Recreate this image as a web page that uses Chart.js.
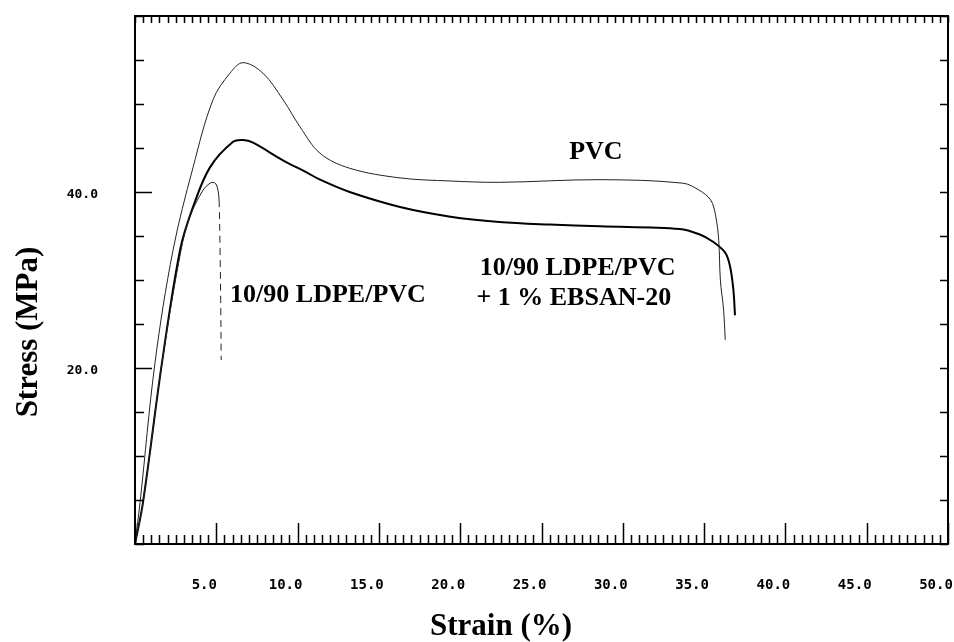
<!DOCTYPE html>
<html lang="en">
<head>
<meta charset="UTF-8">
<title>Stress - Strain</title>
<script src="https://cdn.jsdelivr.net/npm/chart.js"></script>
<style>
  html, body { margin: 0; padding: 0; background: #fff; }
</style>
</head>
<body>
<canvas id="grafico" width="954" height="642"></canvas>
<script>
// valores: deformação (%) e tensão (MPa)
const pvcStrain = [0, 0.31, 1.23, 2.34, 3.57, 4.80, 5.84, 6.64, 7.87, 9.10, 10.15, 11.38, 13.2, 16.3, 19.4, 22.4, 28.6, 33.7, 34.7, 35.4, 35.7, 35.9, 36.0, 36.2, 36.3];
const pvcStress = [0, 4.7, 20.6, 33.4, 42.8, 50.5, 53.5, 54.7, 53.5, 50.5, 47.4, 44.4, 42.7, 41.6, 41.25, 41.1, 41.4, 41.0, 40.2, 39.1, 37.4, 34.5, 30.0, 26.6, 23.2];

const ebsanStrain = [0, 0.49, 1.66, 2.77, 3.57, 4.61, 6.03, 6.65, 7.26, 9.10, 10.58, 11.38, 13.2, 16.3, 19.4, 22.4, 25.5, 28.6, 33.5, 34.7, 35.5, 36.3, 36.6, 36.8, 36.9];
const ebsanStress = [0, 4.7, 20.6, 33.4, 38.3, 42.8, 45.7, 45.9, 45.6, 43.6, 42.2, 41.4, 40.0, 38.3, 37.2, 36.6, 36.3, 36.1, 35.8, 35.2, 34.4, 33.1, 31.5, 28.9, 26.0];

const ldpeStrain = [0, 0.49, 1.66, 2.83, 3.38, 4.18, 4.61, 4.80, 4.98, 5.10, 5.17, 5.23, 5.27, 5.30];
const ldpeStress = [0, 4.7, 20.6, 33.4, 37.2, 40.2, 41.0, 41.1, 40.9, 40.2, 39.1, 33.4, 27.7, 20.9];

const xTicks = [0, 5, 10, 15, 20, 25, 30, 35, 40, 45, 50];
const yTicks = [0, 5, 10, 15, 20, 25, 30, 35, 40, 45, 50, 55, 60];
const yLabeled = [20, 40];

// textos da figura
const curveLabels = [
  { text: 'PVC', strain: 26.7, stress: 43.8 },
  { text: '10/90 LDPE/PVC', strain: 21.2, stress: 30.6 },
  { text: '+ 1 % EBSAN-20', strain: 21.0, stress: 27.2 },
  { text: '10/90 LDPE/PVC', strain: 5.85, stress: 27.5 }
];

function pontos(xs, ys) {
  return xs.map((x, i) => ({ x: x, y: ys[i] }));
}

// moldura com marcas para dentro (como no gráfico original)
const moldura = {
  id: 'moldura',
  afterDatasetsDraw(chart) {
    const { ctx, chartArea: a, scales: { x, y } } = chart;
    ctx.save();
    ctx.strokeStyle = '#000';
    ctx.lineWidth = 1.5;
    ctx.beginPath();
    for (let v = 0; v <= 50.001; v += 0.5) {
      const px = Math.round(x.getPixelForValue(v)) + 0.5;
      const major = Math.abs(v % 5) < 0.001;
      ctx.moveTo(px, a.bottom);
      ctx.lineTo(px, a.bottom - (major ? 21 : 9));
      ctx.moveTo(px, a.top);
      ctx.lineTo(px, a.top + 7);
    }
    yTicks.forEach(v => {
      const py = Math.round(y.getPixelForValue(v)) + 0.5;
      ctx.moveTo(a.left, py);
      ctx.lineTo(a.left + (yLabeled.includes(v) ? 17 : 9), py);
      ctx.moveTo(a.right, py);
      ctx.lineTo(a.right - 8, py);
    });
    ctx.stroke();
    ctx.lineWidth = 2;
    ctx.strokeRect(a.left, a.top, a.right - a.left, a.bottom - a.top);

    // rótulos das curvas
    ctx.fillStyle = '#000';
    ctx.font = 'bold 26px "Liberation Serif"';
    ctx.textAlign = 'left';
    ctx.textBaseline = 'alphabetic';
    curveLabels.forEach(l => {
      ctx.fillText(l.text, x.getPixelForValue(l.strain), y.getPixelForValue(l.stress));
    });

    // títulos dos eixos
    ctx.font = 'bold 31px "Liberation Serif"';
    ctx.textAlign = 'center';
    ctx.fillText('Strain (%)', 501, 635);
    ctx.translate(37, 332);
    ctx.rotate(-Math.PI / 2);
    ctx.fillText('Stress (MPa)', 0, 0);
    ctx.restore();
  }
};

const ctx = document.getElementById('grafico').getContext('2d');
const chart = new Chart(ctx, {
  type: 'line',
  data: {
    datasets: [
      {
        label: '10/90 LDPE/PVC',
        data: pontos(ldpeStrain, ldpeStress),
        borderColor: '#222',
        borderWidth: 1,
        segment: {
          borderDash: c => (c.p1.parsed.y < 38 && c.p1.parsed.x > 5) ? [7, 5] : undefined
        }
      },
      {
        label: 'PVC',
        data: pontos(pvcStrain, pvcStress),
        borderColor: '#222',
        borderWidth: 1
      },
      {
        label: '10/90 LDPE/PVC + 1 % EBSAN-20',
        data: pontos(ebsanStrain, ebsanStress),
        borderColor: '#000',
        borderWidth: 2
      }
    ]
  },
  options: {
    responsive: false,
    animation: false,
    devicePixelRatio: 1,
    layout: { padding: { left: 0, right: 6, top: 16, bottom: 0 } },
    elements: {
      point: { radius: 0 },
      line: { tension: 0.35, fill: false }
    },
    plugins: {
      legend: { display: false },
      tooltip: { enabled: false }
    },
    scales: {
      x: {
        type: 'linear',
        min: 0,
        max: 50,
        afterBuildTicks: s => { s.ticks = xTicks.map(v => ({ value: v })); },
        afterFit: s => { s.height = 98; s.paddingLeft = 0; s.paddingRight = 0; },
        grid: { display: false, drawTicks: false },
        border: { display: false },
        ticks: {
          autoSkip: false,
          maxRotation: 0,
          padding: 33,
          labelOffset: -12,
          color: '#000',
          font: { family: 'DejaVu Sans Mono', size: 14, weight: 'bold' },
          callback: v => v === 0 ? '' : v.toFixed(1)
        }
      },
      y: {
        type: 'linear',
        min: 0,
        max: 60,
        afterBuildTicks: s => { s.ticks = yTicks.map(v => ({ value: v })); },
        afterFit: s => { s.width = 135; s.paddingTop = 0; s.paddingBottom = 0; },
        grid: { display: false, drawTicks: false },
        border: { display: false },
        ticks: {
          autoSkip: false,
          padding: 37,
          labelOffset: 3,
          color: '#000',
          font: { family: 'DejaVu Sans Mono', size: 13, weight: 'bold' },
          callback: v => yLabeled.includes(v) ? v.toFixed(1) : ''
        }
      }
    }
  },
  plugins: [moldura]
});
</script>
</body>
</html>
